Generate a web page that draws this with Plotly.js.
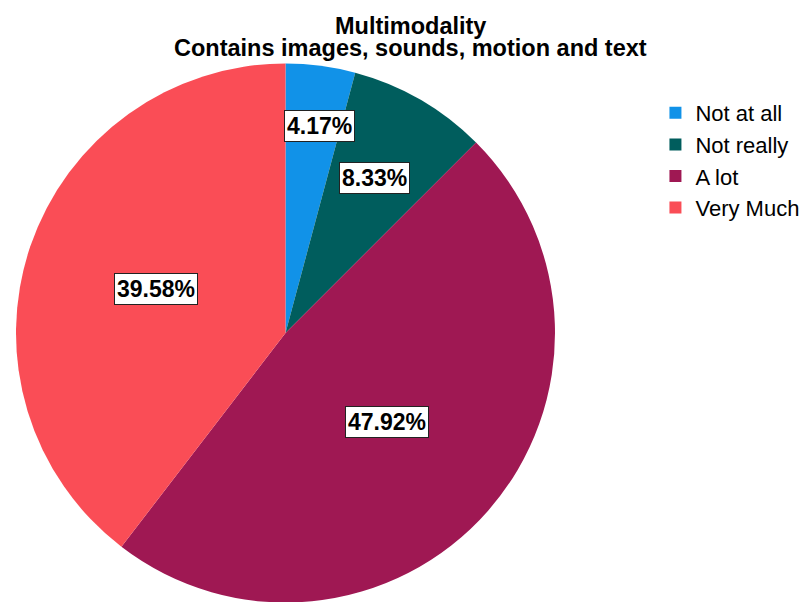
<!DOCTYPE html>
<html>
<head>
<meta charset="utf-8">
<script src="https://cdn.plot.ly/plotly-3.0.1.min.js"></script>
<style>html,body{margin:0;padding:0;overflow:hidden;background:#fff;}</style>
</head>
<body>
<div id="chart" style="width:806px;height:606px;"></div>
<script>
var categories = ["Not at all", "Not really", "A lot", "Very Much"];
var counts = [2, 4, 23, 19];
var colors = ["#1192e8", "#005d5d", "#9f1853", "#fa4d56"];
var titleLines = ["Multimodality", "Contains images, sounds, motion and text"];

var FONT = "Liberation Sans, Arial, sans-serif";
var total = counts.reduce(function(a, b){ return a + b; }, 0);
var annotations = [];
var cum = 0;
for (var i = 0; i < counts.length; i++) {
  var frac = counts[i] / total;
  var span = frac * 2 * Math.PI;
  var mid = (cum + frac / 2) * 2 * Math.PI;
  var half = span / 2;
  var f = (2 / 3) * Math.sin(half) / half;
  if (f < 0.5) f = 0.5;
  if (span < 20 * Math.PI / 180) { f = 0.775; mid += 2 * Math.PI / 180; }
  annotations.push({
    xref: "paper", yref: "paper",
    x: 0.5 + 0.5 * f * Math.sin(mid),
    y: 0.5 + 0.5 * f * Math.cos(mid),
    xanchor: "center", yanchor: "middle",
    text: "<b>" + (frac * 100).toFixed(2) + "%</b>",
    showarrow: false,
    bgcolor: "#ffffff",
    bordercolor: "#222222",
    borderwidth: 1,
    borderpad: 2,
    font: {family: FONT, size: 23, color: "#000"}
  });
  cum += frac;
}

// title lines as annotations (tight line spacing like the reference)
var titleY = [26, 48];
for (var j = 0; j < titleLines.length; j++) {
  annotations.push({
    xref: "paper", yref: "paper",
    x: (413 - 16) / 542, y: (604 - titleY[j]) / 542,
    xanchor: "center", yanchor: "middle",
    text: "<b>" + titleLines[j] + "</b>",
    showarrow: false,
    font: {family: FONT, size: 23.5, color: "#000"}
  });
}

var trace = {
  type: "pie",
  labels: categories,
  values: counts,
  sort: false,
  direction: "clockwise",
  rotation: 0,
  marker: {colors: colors, line: {width: 0}},
  textinfo: "none",
  hoverinfo: "label+percent",
  domain: {x: [0, 1], y: [0, 1]}
};

var layout = {
  width: 806,
  height: 606,
  margin: {l: 16, r: 248, t: 62, b: 2},
  paper_bgcolor: "#ffffff",
  showlegend: true,
  legend: {
    x: (659 - 16) / 542, xanchor: "left",
    y: (604 - 92) / 542, yanchor: "top",
    font: {family: FONT, size: 22, color: "#000"},
    traceorder: "normal",
    itemwidth: 30,
    tracegroupgap: 0,
    bgcolor: "rgba(0,0,0,0)"
  },
  annotations: annotations
};

Plotly.newPlot("chart", [trace], layout, {displayModeBar: false, staticPlot: true});
</script>
</body>
</html>
